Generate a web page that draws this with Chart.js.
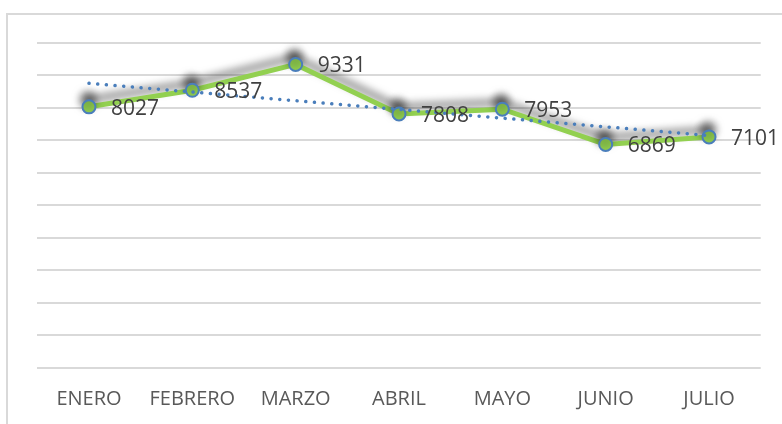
<!DOCTYPE html>
<html>
<head>
<meta charset="utf-8">
<script src="https://cdn.jsdelivr.net/npm/chart.js@4"></script>
<style>
    body { margin: 0; background: #fff; }
    #frame {
        position: absolute; left: 6px; top: 13px;
        width: 800px; height: 430px;
        border: 2px solid #d9d9d9;
    }
    #wrap { position: absolute; left: 0; top: 0; width: 782px; height: 424px; }
</style>
</head>
<body>
<div id="frame"></div>
<div id="wrap"><canvas id="grafico" width="782" height="424"></canvas></div>
<script>
const meses = ['ENERO', 'FEBRERO', 'MARZO', 'ABRIL', 'MAYO', 'JUNIO', 'JULIO'];
const valores = [8027, 8537, 9331, 7808, 7953, 6869, 7101];
// linea de tendencia
const tendencia = [8749, 8482, 8214, 7947, 7679, 7411, 7144];

const VERDE = '#92d050';
const AZUL = '#4a7ebb';

// sombra gris detras de la serie verde
const sombra = {
    id: 'sombra',
    beforeDatasetDraw(chart, args) {
        if (args.index !== 1) return;
        const ctx = chart.ctx;
        ctx.save();
        ctx.shadowColor = 'rgba(0,0,0,0.6)';
        ctx.shadowBlur = 8;
        ctx.shadowOffsetX = -1;
        ctx.shadowOffsetY = -7;
    },
    afterDatasetDraw(chart, args) {
        if (args.index !== 1) return;
        chart.ctx.restore();
    }
};

// etiquetas con el valor a la derecha de cada punto
const etiquetas = {
    id: 'etiquetas',
    afterDatasetsDraw(chart) {
        const ctx = chart.ctx;
        const meta = chart.getDatasetMeta(1);
        ctx.save();
        ctx.font = '21px "Open Sans"';
        ctx.fillStyle = '#404040';
        ctx.textAlign = 'left';
        ctx.textBaseline = 'middle';
        meta.data.forEach((p, i) => {
            ctx.fillText(String(valores[i]), p.x + 22, p.y + 2);
        });
        ctx.restore();
    }
};

const config = {
    type: 'line',
    data: {
        labels: meses,
        datasets: [{
            label: 'Tendencia',
            data: tendencia,
            borderColor: AZUL,
            borderWidth: 3.5,
            borderDash: [0.1, 8.6],
            borderCapStyle: 'round',
            pointRadius: 0,
            fill: false,
            order: 0
        }, {
            label: 'Ventas',
            data: valores,
            borderColor: VERDE,
            borderWidth: 5,
            pointRadius: 6.5,
            pointBackgroundColor: VERDE,
            pointBorderColor: AZUL,
            pointBorderWidth: 2,
            fill: false,
            order: 1
        }]
    },
    options: {
        responsive: false,
        animation: false,
        layout: { padding: { top: 42.7, right: 21.3, left: 0, bottom: 0 } },
        plugins: {
            legend: { display: false },
            tooltip: { enabled: false }
        },
        scales: {
            x: {
                offset: true,
                grid: { display: false, drawTicks: false, offset: true },
                border: { display: false },
                ticks: {
                    color: '#595959',
                    font: { family: 'Open Sans', size: 20 },
                    padding: 20,
                    maxRotation: 0
                },
                afterFit: (s) => { s.height = 56.3; s.paddingLeft = 0; s.paddingRight = 0; }
            },
            y: {
                min: 0,
                max: 10000,
                ticks: { stepSize: 1000, display: false },
                grid: { color: '#d9d9d9', lineWidth: 2, drawTicks: false },
                border: { display: false },
                afterFit: (s) => { s.width = 37.3; }
            }
        }
    },
    plugins: [sombra, etiquetas]
};

var chart = new Chart(document.getElementById('grafico'), config);
</script>
</body>
</html>
